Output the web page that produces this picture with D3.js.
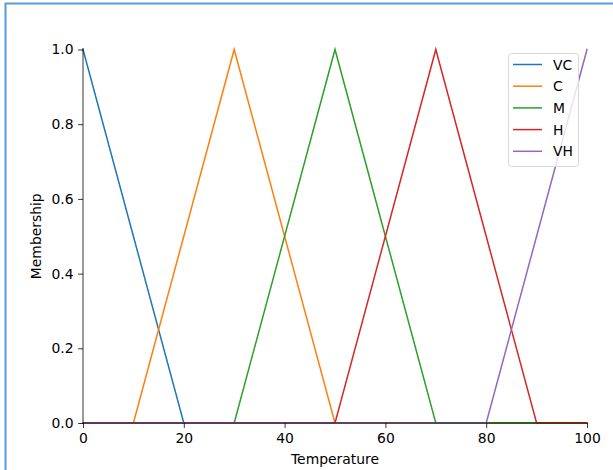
<!DOCTYPE html>
<html>
<head>
<meta charset="utf-8">
<script src="https://cdn.jsdelivr.net/npm/d3@7"></script>
<style>
  html, body { margin: 0; padding: 0; background: #fff; }
  svg { display: block; font-family: "DejaVu Sans", sans-serif; }
</style>
</head>
<body>
<div id="chart"></div>
<script>
(function() {
  'use strict';

  // membership values at each breakpoint of temperature
  var temperature = [0, 10, 20, 30, 40, 50, 60, 70, 80, 90, 100];
  var vc = [1, 0.5, 0, 0, 0, 0, 0, 0, 0, 0, 0];
  var c = [0, 0, 0.5, 1, 0.5, 0, 0, 0, 0, 0, 0];
  var m = [0, 0, 0, 0, 0.5, 1, 0.5, 0, 0, 0, 0];
  var h = [0, 0, 0, 0, 0, 0, 0.5, 1, 0.5, 0, 0];
  var vh = [0, 0, 0, 0, 0, 0, 0, 0, 0, 0.5, 1];
  var seriesNames = ['VC', 'C', 'M', 'H', 'VH'];
  var xTicks = [0, 20, 40, 60, 80, 100];
  var yTicks = [0, 0.2, 0.4, 0.6, 0.8, 1.0];

  var colors = ['#1f77b4', '#ff7f0e', '#2ca02c', '#d62728', '#9467bd'];
  var seriesValues = [vc, c, m, h, vh];

  var svgWidth = 613,
    svgHeight = 470,
    plot = { left: 83, right: 587, top: 49.5, bottom: 423 };

  var svg = d3.select('#chart')
    .append('svg')
    .attr('width', svgWidth)
    .attr('height', svgHeight);

  // window frame
  svg.append('path')
    .attr('d', 'M5.5,' + svgHeight + 'V3.5H' + svgWidth)
    .attr('fill', 'none')
    .attr('stroke', '#5b9bd5')
    .attr('stroke-width', 2);

  var x = d3.scaleLinear().domain([0, 100]).range([plot.left, plot.right]);
  var y = d3.scaleLinear().domain([0, 1]).range([plot.bottom, plot.top]);

  var line = d3.line()
    .x(function(d, i) { return x(temperature[i]); })
    .y(function(d) { return y(d); });

  svg.selectAll('path.series')
    .data(seriesValues)
    .enter().append('path')
    .classed('series', true)
    .attr('d', line)
    .attr('fill', 'none')
    .attr('stroke', function(d, i) { return colors[i]; })
    .attr('stroke-width', 1.5)
    .attr('stroke-linecap', 'square');

  //axes
  var xAxis = svg.append('g')
    .attr('transform', 'translate(0,' + plot.bottom + ')')
    .call(d3.axisBottom(x).tickValues(xTicks).tickSize(4.9).tickPadding(5.5)
      .tickFormat(d3.format('d')));

  var yAxis = svg.append('g')
    .attr('transform', 'translate(' + plot.left + ',0)')
    .call(d3.axisLeft(y).tickValues(yTicks).tickSize(4.9).tickPadding(4.5)
      .tickFormat(d3.format('.1f')));

  [xAxis, yAxis].forEach(function(ax) {
    ax.select('.domain').attr('stroke', '#000').attr('stroke-width', 0.8);
    ax.selectAll('.tick line').attr('stroke', '#000').attr('stroke-width', 0.8);
    ax.selectAll('.tick text')
      .attr('fill', '#000')
      .style('font-size', '13.9px')
      .style('font-family', '"DejaVu Sans", sans-serif');
  });
  xAxis.select('.domain').attr('d', 'M' + plot.left + ',0H' + plot.right);
  yAxis.select('.domain').attr('d', 'M0,' + plot.bottom + 'V' + (plot.top - 1.5));

  svg.append('text')
    .attr('x', (plot.left + plot.right) / 2)
    .attr('y', 464)
    .attr('text-anchor', 'middle')
    .style('font-size', '13.9px')
    .text('Temperature');

  svg.append('text')
    .attr('transform', 'translate(41,' + ((plot.top + plot.bottom) / 2) + ') rotate(-90)')
    .attr('text-anchor', 'middle')
    .style('font-size', '13.9px')
    .text('Membership');

  //legend
  var legend = svg.append('g').attr('transform', 'translate(508,53)');
  legend.append('rect')
    .attr('x', 0.5).attr('y', 0.5)
    .attr('width', 70).attr('height', 113)
    .attr('rx', 3)
    .attr('fill', 'rgba(255,255,255,0.8)')
    .attr('stroke', '#d9d9d9')
    .attr('stroke-width', 1);

  var items = legend.selectAll('g.item')
    .data(seriesNames)
    .enter().append('g')
    .classed('item', true)
    .attr('transform', function(d, i) { return 'translate(0,' + (11.5 + i * 21.7) + ')'; });

  items.append('line')
    .attr('x1', 5).attr('x2', 34)
    .attr('stroke', function(d, i) { return colors[i]; })
    .attr('stroke-width', 1.5);

  items.append('text')
    .attr('x', 45)
    .attr('dy', '0.36em')
    .style('font-size', '13.9px')
    .text(function(d) { return d; });
})();
</script>
</body>
</html>
